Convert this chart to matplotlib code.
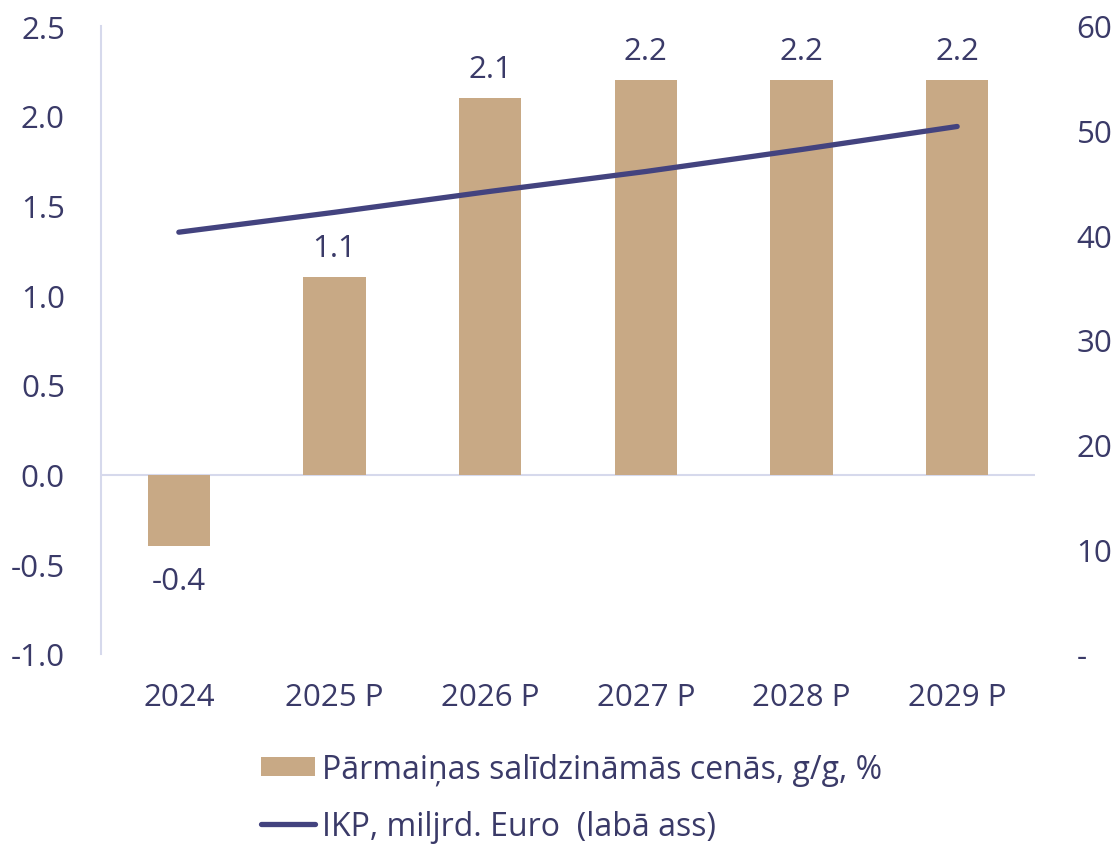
import matplotlib.pyplot as plt
from matplotlib.ticker import FuncFormatter

plt.rcParams["font.family"] = ["Open Sans", "DejaVu Sans"]

years = ["2024", "2025 P", "2026 P", "2027 P", "2028 P", "2029 P"]
growth = [-0.4, 1.1, 2.1, 2.2, 2.2, 2.2]
gdp = [40.3, 42.2, 44.2, 46.1, 48.2, 50.4]

text_color = "#3a3a68"
bar_color = "#c8a985"
line_color = "#43437f"
axis_color = "#d6d9ec"

fig = plt.figure(figsize=(11.17, 8.45), dpi=100)
ax = fig.add_axes([101 / 1117, 190 / 845, 934 / 1117, 628 / 845])
ax2 = ax.twinx()

x = list(range(len(years)))
bars = ax.bar(x, growth, width=0.4, color=bar_color, zorder=2,
              label="Pārmaiņas salīdzināmās cenās, g/g, %")
line, = ax2.plot(x, gdp, color=line_color, linewidth=3.8,
                 solid_capstyle="round", zorder=3,
                 label="IKP, miljrd. Euro  (labā ass)")

for xi, v in zip(x, growth):
    if v >= 0:
        ax.annotate(f"{v:.1f}", (xi, v), xytext=(0, 10), textcoords="offset points",
                    ha="center", va="bottom", fontsize=22.5, color=text_color)
    else:
        ax.annotate(f"{v:.1f}", (xi, v), xytext=(0, -14), textcoords="offset points",
                    ha="center", va="top", fontsize=22.5, color=text_color)

ax.set_xlim(-0.5, 5.5)
ax.set_ylim(-1.0, 2.5)
ax.set_yticks([-1.0, -0.5, 0.0, 0.5, 1.0, 1.5, 2.0, 2.5])
ax.yaxis.set_major_formatter(FuncFormatter(lambda v, p: f"{v:.1f}"))
ax.set_xticks(x)
ax.set_xticklabels(years)
ax.axhline(0, color=axis_color, linewidth=1.5, zorder=1)

ax2.set_ylim(0, 60)
ax2.set_yticks(range(0, 61, 10))
ax2.yaxis.set_major_formatter(FuncFormatter(lambda v, p: "-" if v == 0 else f"{v:.0f}"))

for a in (ax, ax2):
    for s in a.spines.values():
        s.set_visible(False)
    a.tick_params(length=0, labelsize=22.5, labelcolor=text_color)
ax.spines["left"].set_visible(True)
ax.spines["left"].set_color(axis_color)
ax.spines["left"].set_linewidth(1.5)
ax.tick_params(axis="y", pad=26)
ax.tick_params(axis="x", pad=20)
ax2.tick_params(axis="y", pad=30)
for lbl in ax2.get_yticklabels():
    lbl.set_ha("left")

fig.legend([bars, line], [bars.get_label(), line.get_label()],
           loc="upper left", bbox_to_anchor=(261 / 1117, 1 - 754 / 845),
           frameon=False, fontsize=23, labelcolor=text_color,
           handlelength=1.7, handleheight=0.55, handletextpad=0.2,
           labelspacing=0.75, borderaxespad=0, borderpad=0)

fig.savefig("out.png", dpi=100)
